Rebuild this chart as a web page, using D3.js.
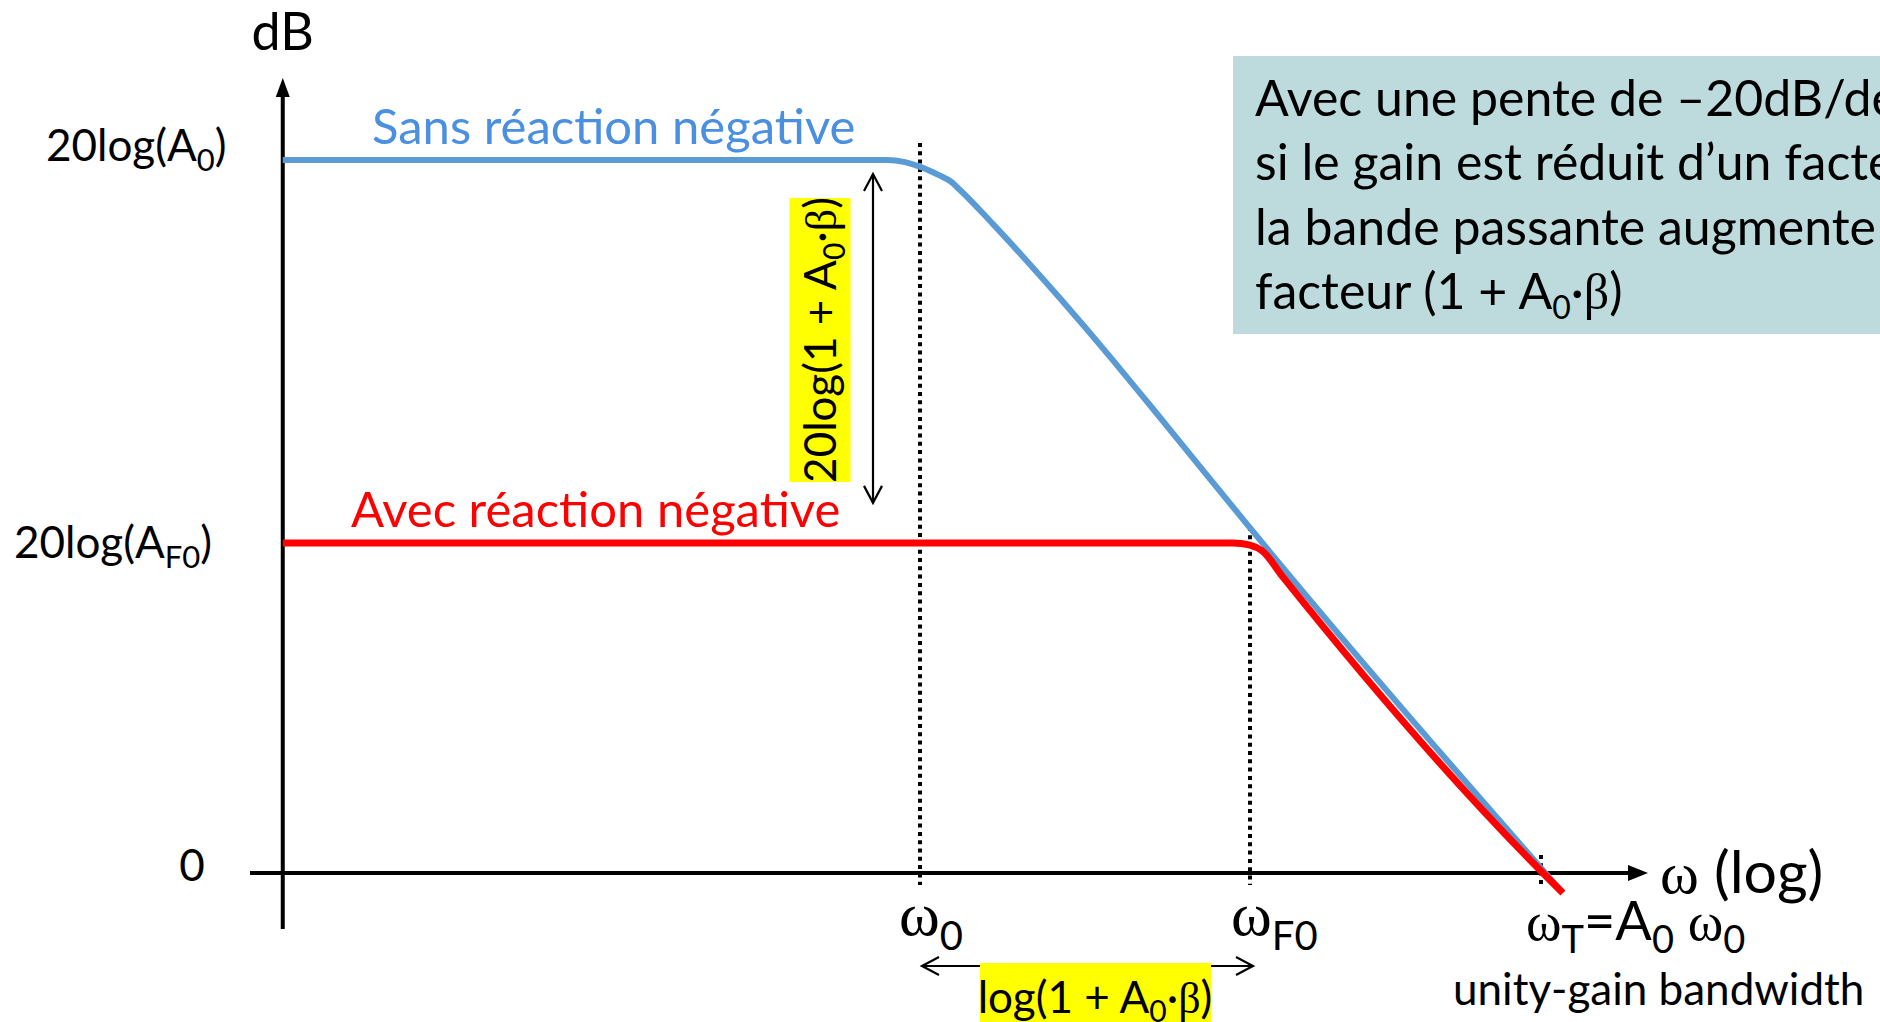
<!DOCTYPE html>
<html>
<head>
<meta charset="utf-8">
<script src="https://cdn.jsdelivr.net/npm/d3@7"></script>
<style>
  body { margin: 0; background: #fff; overflow: hidden; }
  svg { display: block; }
  text { font-family: Lato, "Open Sans", sans-serif; fill: #000; }
  .greek { font-family: "Liberation Serif", "DejaVu Serif", serif; }
</style>
</head>
<body>
<svg width="1880" height="1022"></svg>
<script>
// omega in rad/s (omega0 = 1), gain in dB
var blueW  = [7.4e-6, 0.542, 0.757, 1.02, 1.449, 1.746, 2.099, 3.873, 7.278, 13.4, 35.81, 71.12, 179.5, 454, 1.5e5];
var blueDb = [100, 100, 99.7, 99.0, 97.8, 97.05, 95.8, 91.0, 85.8, 80.6, 71.9, 65.6, 57.0, 48.4, -2.8];

var redW  = [7.4e-6, 331, 454, 567.5, 837.5, 86300, 1.5e5];
var redDb = [46.3, 46.3, 46.0, 45.2, 41.5, 1.4, -2.8];

var omega0 = 1, omegaF0 = 454, omegaT = 1e5, omegaMin = 7.4e-6;
var a0Db = 100, af0Db = 46.3;

var infoLines = [
  "Avec une pente de \u201320dB/decade",
  "si le gain est r\u00e9duit d\u2019un facteur",
  "la bande passante augmente"
];

var svg = d3.select("svg");

var x = d3.scaleLog().domain([1, 1e5]).range([920, 1541]);
var y = d3.scaleLinear().domain([0, 100]).range([873, 160]);

function rich(g, x0, y0, parts, anchor) {
  var t = g.append("text").attr("x", x0).attr("y", y0)
    .attr("text-anchor", anchor || "start");
  var shift = 0;
  parts.forEach(function (p) {
    var s = t.append("tspan").text(p.t);
    var d = (p.sub || 0) - shift;
    if (d) s.attr("dy", d);
    shift = p.sub || 0;
    if (p.size) s.attr("font-size", p.size);
    if (p.greek) s.attr("class", "greek");
  });
  return t;
}

// info box
svg.append("rect").attr("x", 1233).attr("y", 56).attr("width", 700).attr("height", 278)
  .attr("fill", "#bddbdd");
var info = svg.append("g").attr("font-size", 50);
infoLines.forEach(function (l, i) {
  info.append("text").attr("x", 1255).attr("y", 116 + i * 64.3).text(l);
});
rich(info, 1255, 116 + 3 * 64.3, [
  {t: "facteur (1 + A"}, {t: "0", size: 32, sub: 10}, {t: "\u00b7"}, {t: "\u03b2", greek: true}, {t: ")"}
]);

// axes
var x0px = x(omegaMin), y0px = y(0);
svg.append("line").attr("x1", x0px).attr("x2", x0px).attr("y1", 929).attr("y2", 94)
  .attr("stroke", "#000").attr("stroke-width", 4);
svg.append("path").attr("d", "M" + x0px + ",78 L" + (x0px - 7) + ",97 L" + (x0px + 7) + ",97 Z");
svg.append("line").attr("x1", 250).attr("x2", 1632).attr("y1", y0px).attr("y2", y0px)
  .attr("stroke", "#000").attr("stroke-width", 4);
svg.append("path").attr("d", "M1648," + y0px + " L1628," + (y0px - 8) + " L1628," + (y0px + 8) + " Z");

// dotted guides
function dotted(w, y1, y2) {
  svg.append("line").attr("x1", x(w)).attr("x2", x(w)).attr("y1", y1).attr("y2", y2)
    .attr("stroke", "#000").attr("stroke-width", 4).attr("stroke-dasharray", "4 4.3");
}
dotted(omega0, y(a0Db) - 17, y0px + 12);
dotted(omegaF0, y(af0Db) - 16, y0px + 12);
dotted(omegaT, y0px - 18, y0px + 14);

// curves
var line = d3.line().x(function (d) { return x(d[0]); }).y(function (d) { return y(d[1]); })
  .curve(d3.curveMonotoneX);
svg.append("path").attr("d", line(d3.zip(blueW, blueDb)))
  .attr("fill", "none").attr("stroke", "#5b9bd5").attr("stroke-width", 6);
svg.append("path").attr("d", line(d3.zip(redW, redDb)))
  .attr("fill", "none").attr("stroke", "#ff0000").attr("stroke-width", 7);

// double arrows
function openHead(tx, ty, dx, dy) {
  // dx,dy: unit direction pointing back from the tip
  var len = 17, half = 9;
  var px = -dy, py = dx;
  svg.append("polyline")
    .attr("points", [[tx + dx * len + px * half, ty + dy * len + py * half], [tx, ty],
                     [tx + dx * len - px * half, ty + dy * len - py * half]].join(" "))
    .attr("fill", "none").attr("stroke", "#000").attr("stroke-width", 2.2);
}
var ax = 873, ayTop = y(a0Db) + 14, ayBot = y(af0Db) - 40;
svg.append("line").attr("x1", ax).attr("x2", ax).attr("y1", ayTop).attr("y2", ayBot)
  .attr("stroke", "#000").attr("stroke-width", 2.2);
openHead(ax, ayTop, 0, 1);
openHead(ax, ayBot, 0, -1);

var hy = 966, hxL = x(omega0) + 2, hxR = x(omegaF0) + 3;
svg.append("line").attr("x1", hxL).attr("x2", hxR).attr("y1", hy).attr("y2", hy)
  .attr("stroke", "#000").attr("stroke-width", 2.2);
openHead(hxL, hy, 1, 0);
openHead(hxR, hy, -1, 0);

// yellow labels
var vl = svg.append("g").attr("transform", "translate(820,340) rotate(-90)");
vl.append("rect").attr("x", -142).attr("y", -30.5).attr("width", 284).attr("height", 61).attr("fill", "#ffff00");
rich(vl, 0, 16, [
  {t: "20log(1 + A"}, {t: "0", size: 30, sub: 9}, {t: "\u00b7"}, {t: "\u03b2", greek: true}, {t: ")"}
], "middle").attr("font-size", 44);

svg.append("rect").attr("x", 980).attr("y", 963).attr("width", 231).attr("height", 70).attr("fill", "#ffff00");
rich(svg, 1095, 1013, [
  {t: "log(1 + A"}, {t: "0", size: 30, sub: 9}, {t: "\u00b7"}, {t: "\u03b2", greek: true}, {t: ")"}
], "middle").attr("font-size", 44);

// labels
svg.append("text").attr("x", x0px).attr("y", 50).attr("text-anchor", "middle")
  .attr("font-size", 52).text("dB");
svg.append("text").attr("x", 372).attr("y", 144).attr("font-size", 49)
  .style("fill", "#4a8fe0").text("Sans r\u00e9action n\u00e9gative");
svg.append("text").attr("x", 351).attr("y", 527).attr("font-size", 49)
  .style("fill", "#ff0000").text("Avec r\u00e9action n\u00e9gative");

rich(svg, 46, y(a0Db) + 1, [
  {t: "20log(A"}, {t: "0", size: 31, sub: 10}, {t: ")"}
]).attr("font-size", 44);
rich(svg, 14, y(af0Db) + 15, [
  {t: "20log(A"}, {t: "F0", size: 31, sub: 10}, {t: ")"}
]).attr("font-size", 44);
svg.append("text").attr("x", 192).attr("y", y0px + 8).attr("text-anchor", "middle")
  .attr("font-size", 44).text("0");

rich(svg, 1660, 893, [
  {t: "\u03c9", greek: true}, {t: " (log)"}
]).attr("font-size", 59);

rich(svg, x(omega0) - 21, 935, [
  {t: "\u03c9", greek: true}, {t: "0", size: 40, sub: 15}
]).attr("font-size", 62);
rich(svg, x(omegaF0) - 19, 935, [
  {t: "\u03c9", greek: true}, {t: "F0", size: 40, sub: 15}
]).attr("font-size", 62);
rich(svg, x(omegaT) - 15, 940, [
  {t: "\u03c9", greek: true}, {t: "T", size: 38, sub: 13}, {t: "=A"}, {t: "0", size: 38, sub: 13},
  {t: " "}, {t: "\u03c9", greek: true}, {t: "0", size: 38, sub: 13}
]).attr("font-size", 54);
svg.append("text").attr("x", 1453).attr("y", 1005).attr("font-size", 44).text("unity-gain bandwidth");
</script>
</body>
</html>
